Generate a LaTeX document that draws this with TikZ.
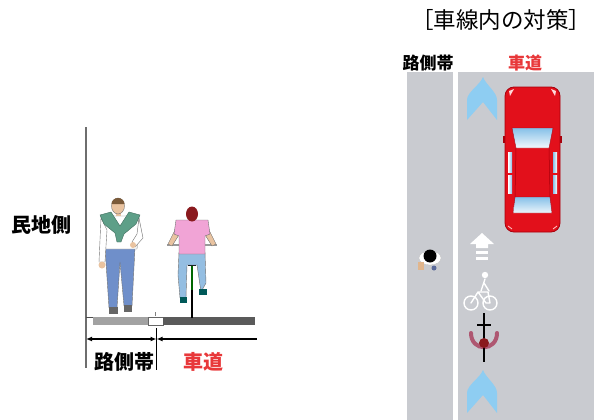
\documentclass[tikz,border=0pt]{standalone}
\usepackage{fontspec}
\newfontfamily\jp{Noto Sans CJK JP}
\usetikzlibrary{arrows.meta}

\definecolor{road}{HTML}{C9CBD0}
\definecolor{chev}{HTML}{8ECDF2}
\definecolor{carred}{HTML}{E2101B}
\definecolor{carline}{HTML}{A8000C}
\definecolor{glass}{HTML}{86C0E8}
\definecolor{txtred}{HTML}{E8383A}
\definecolor{wall}{HTML}{6E6E6E}
\definecolor{stripL}{HTML}{A2A2A2}
\definecolor{stripD}{HTML}{5A5A5A}
\definecolor{skin}{HTML}{E9C3A0}
\definecolor{jeans}{HTML}{6F8FCA}
\definecolor{ljeans}{HTML}{94BEE2}
\definecolor{sweater}{HTML}{5E9F88}
\definecolor{pinkshirt}{HTML}{F1A4D6}
\definecolor{hairbrown}{HTML}{7A5A3A}
\definecolor{hairred}{HTML}{8A1A1E}
\definecolor{maroon}{HTML}{A83A5A}
\definecolor{shoeblue}{HTML}{5A6A9A}

\tikzset{
  lbl/.style={font=\jp\bfseries\fontsize{20}{20}\selectfont, inner sep=0pt},
  lblsmall/.style={font=\jp\bfseries\fontsize{17}{17}\selectfont, inner sep=0pt},
  dimline/.style={line width=1.2pt, black},
  chevron/.style={fill=chev, draw=none},
  pict/.style={draw=white, line width=1.4pt, line cap=round, line join=round},
  outl/.style={draw=black!55, line width=0.4pt}
}

\begin{document}
\begin{tikzpicture}[x=1pt,y=-1pt]
\useasboundingbox (0,0) rectangle (594,420);

% ---------- cross section ----------
% house-side wall
\draw[wall, line width=1.3pt] (86,127) -- (86,368);
% kerb strip: side strip, marking, carriageway
\fill[stripL] (93,317) rectangle (148,325);
\fill[white, draw=black!60, line width=0.4pt] (148,317) rectangle (163,325);
\fill[stripD] (163,317) rectangle (255,325);
\draw[black!70, line width=0.6pt] (86,317) -- (93,317);
\draw[black!50, line width=0.5pt] (155,312) -- (155,316);

% dimension lines
\coordinate (dimA) at (86,339);
\coordinate (dimB) at (156.5,339);
\coordinate (dimC) at (257,339);
\coordinate (tickT) at (156.5,328);
\coordinate (tickB) at (156.5,370);
\draw[black, line width=0.8pt] (tickT) -- (tickB);
\draw[dimline, {Latex[length=6pt,width=5pt]}-{Latex[length=6pt,width=5pt]}] (dimA) -- (dimB);
\draw[dimline, {Latex[length=6pt,width=5pt]}-] (dimB) -- (dimC);

\node[lbl] (minchi) at (42,225) {民地側};
\node[lbl] (rosokuL) at (124,362) {路側帯};
\node[lbl, text=txtred] (shadoL) at (203,362) {車道};

% standing pedestrian
\fill[jeans, outl] (105,247) -- (135,247) -- (132,306) -- (124,306) -- (120,262) -- (117,308) -- (109,308) -- cycle;
\fill[black!60] (109,307) rectangle (118,314);
\fill[black!60] (124,305) rectangle (132,312);
\fill[white, outl] (101,216) -- (139,216) -- (137,249) -- (104,249) -- cycle;
\fill[white, outl] (101,218) -- (99,262) -- (105,262) -- (107,230) -- cycle;
\fill[skin] (102,265) circle[radius=3.5pt];
\fill[white, outl] (139,218) -- (143,238) -- (135,247) -- (132,242) -- (137,234) -- cycle;
\fill[skin] (133,245) circle[radius=3pt];
\fill[sweater, draw=sweater!70!black, line width=0.4pt] (100,215) -- (111,212) -- (120,226) -- (129,212) -- (140,215) -- (136,224) -- (124,234) -- (121,242) -- (117,242) -- (115,233) -- (104,224) -- cycle;
\fill[skin] (116,211) rectangle (121,216);
\fill[skin, outl] (118,206) ellipse[x radius=6.5pt, y radius=8pt];
\fill[hairbrown] (111.5,204) arc[start angle=180, end angle=0, x radius=6.5pt, y radius=6pt] -- cycle;

% cyclist seen from behind
\draw[black, line width=2pt] (192,266) -- (192,318);
\draw[green!40!black, line width=1.2pt] (192,262) -- (192,290);
\fill[black] (188,263) rectangle (196,266);
\draw[black!40, line width=1.2pt] (167,245) -- (217,245);
\fill[ljeans, outl] (179,252) -- (205,252) -- (206,283) -- (201,292) -- (197,265) -- (187,265) -- (186,298) -- (180,298) -- (178,275) -- cycle;
\fill[teal!70!black] (180,297) rectangle (187,303);
\fill[teal!70!black] (199,289) rectangle (207,295);
\fill[skin, outl] (178,224) -- (168,244) -- (172,246) -- (182,230) -- cycle;
\fill[skin, outl] (206,224) -- (216,244) -- (212,246) -- (202,230) -- cycle;
\fill[pinkshirt, outl] (176,220) -- (208,220) -- (210,234) -- (205,236) -- (205,254) -- (179,254) -- (179,236) -- (174,234) -- cycle;
\fill[hairred] (192,214) ellipse[x radius=6pt, y radius=7.5pt];

% ---------- plan view ----------
\node[font=\jp\fontsize{22.5}{22.5}\selectfont, inner sep=0pt] (title) at (501,20) {［車線内の対策］};
\node[lblsmall] (rosokuR) at (428,63) {路側帯};
\node[lblsmall, text=txtred] (shadoR) at (525,63) {車道};

\fill[road] (407,72) rectangle (453,420);
\fill[road] (458,72) rectangle (594,420);

% direction chevrons
\fill[chevron] (483,77) .. controls (486,85) and (497,92) .. (497,100) -- (497,120) -- (483,102) -- (467,120) -- (467,100) .. controls (467,92) and (480,85) .. cycle;
\fill[chevron] (483,370) .. controls (486,378) and (497,385) .. (497,393) -- (497,413) -- (483,395) -- (467,413) -- (467,393) .. controls (467,385) and (480,378) .. cycle;

% car from above
\fill[carline] (503,136) rectangle (507,143);
\fill[carline] (558,136) rectangle (562,143);
\fill[carred, draw=carline, line width=0.8pt, rounded corners=9pt] (505,87) rectangle (560,232);
\fill[white!85!red] (509,91) -- (514,89) -- (510,96) -- cycle;
\fill[white!85!red] (556,91) -- (551,89) -- (555,96) -- cycle;
\shade[top color=glass, bottom color=white!90!glass, draw=carline, line width=0.4pt] (512,128) -- (553,128) -- (549,148) -- (516,148) -- cycle;
\shade[top color=glass, bottom color=white!85!glass, draw=carline, line width=0.4pt] (515,197) -- (550,197) -- (552,213) -- (513,213) -- cycle;
\shade[left color=white, right color=glass] (508,152) rectangle (512,172);
\shade[left color=white, right color=glass] (508,175) rectangle (512,193);
\shade[left color=glass, right color=white] (553,152) rectangle (557,172);
\shade[left color=glass, right color=white] (553,175) rectangle (557,193);
\draw[carline, line width=0.5pt] (516,148) -- (515,197) (549,148) -- (550,197);
\draw[white!80!red, line width=0.8pt] (508,226) -- (512,229) (557,226) -- (553,229);

% lane marking: arrow and bicycle symbol
\fill[white] (470,244) -- (482,233) -- (494,244) -- (488,244) -- (488,248) -- (476,248) -- (476,244) -- cycle;
\fill[white] (476,251) rectangle (488,254);
\fill[white] (476,257) rectangle (488,260);
\draw[pict] (471,303) circle[radius=7pt];
\draw[pict] (490,303) circle[radius=7pt];
\draw[pict] (471,303) -- (478,292) -- (486,303) -- (490,303) (478,292) -- (488,292) -- (490,303);
\draw[pict] (485,279) -- (481,291) (484,283) -- (489,291);
\fill[white] (485,275) circle[radius=3.2pt];

% cyclist seen from above
\draw[maroon, line width=4pt, opacity=0.8, line cap=round] (471,333) .. controls (471,352) and (497,352) .. (497,333);
\draw[black, line width=1.6pt] (484,313) -- (484,362);
\draw[black, line width=1.4pt] (477,325) -- (491,325);
\fill[hairred] (484,343) circle[radius=5pt];

% pedestrian seen from above
\fill[white, draw=black!25, line width=0.3pt] (430,258) ellipse[x radius=11pt, y radius=7pt];
\fill[skin!80!brown] (418,262) rectangle (424,270);
\fill[shoeblue] (434,268) circle[radius=2.5pt];
\fill[black] (430,256) circle[radius=6.5pt];
\end{tikzpicture}
\end{document}
